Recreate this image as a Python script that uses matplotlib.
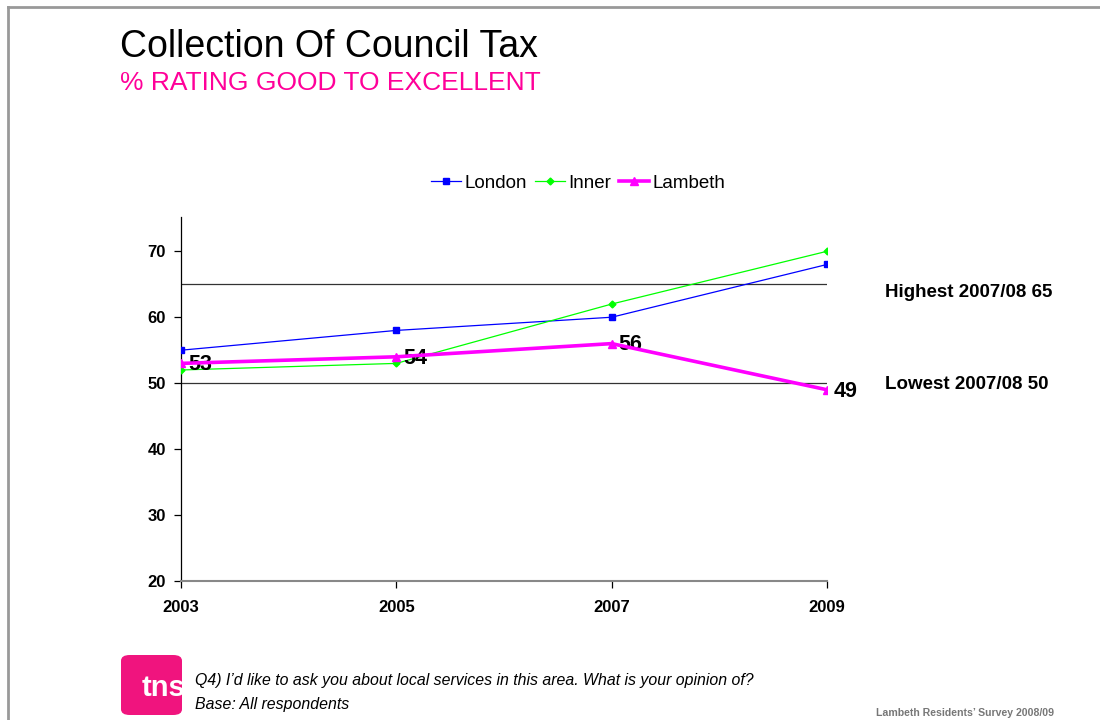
import matplotlib.pyplot as plt
from matplotlib.patches import FancyBboxPatch
from matplotlib.lines import Line2D

plt.rcParams['font.family'] = ['Liberation Sans', 'DejaVu Sans']

# survey results, % rating good to excellent
years = ['2003', '2005', '2007', '2009']
london = [55, 58, 60, 68]
inner = [52, 53, 62, 70]
lambeth = [53, 54, 56, 49]
highest_0708 = 65
lowest_0708 = 50
yticks = [20, 30, 40, 50, 60, 70]

fig = plt.figure(figsize=(11, 7.2), dpi=100)

# slide frame (top and left edges only)
fig.add_artist(Line2D([8 / 1100, 1], [1 - 7 / 720, 1 - 7 / 720], color='#999999', lw=2))
fig.add_artist(Line2D([8 / 1100, 8 / 1100], [0, 1 - 7 / 720], color='#999999', lw=2))

fig.text(120 / 1100, 1 - 47 / 720, 'Collection Of Council Tax', fontsize=27, va='center', ha='left')
fig.text(120 / 1100, 1 - 83 / 720, '% RATING GOOD TO EXCELLENT', fontsize=19, va='center',
         ha='left', color='#FF0099')

ax = fig.add_axes([181 / 1100, 1 - 581 / 720, 646 / 1100, 364 / 720])
x = list(range(len(years)))

ax.axhline(highest_0708, color='#333333', lw=0.9, zorder=1)
ax.axhline(lowest_0708, color='#333333', lw=0.9, zorder=1)

ax.plot(x, london, color='#0000FF', lw=0.9, marker='s', ms=4.5, label='London', zorder=3)
ax.plot(x, inner, color='#00FF00', lw=0.9, marker='D', ms=3.5, label='Inner', zorder=3)
ax.plot(x, lambeth, color='#FF00FF', lw=2.6, marker='^', ms=5.5, label='Lambeth', zorder=4)

for xi, v in zip(x, lambeth):
    ax.annotate(str(v), (xi, v), xytext=(5, -1), textcoords='offset points',
                fontsize=15.5, fontweight='bold', va='center', ha='left')

ax.text(1.09, highest_0708 - 1.3, f'Highest 2007/08 {highest_0708}', transform=ax.get_yaxis_transform(),
        fontsize=13.5, fontweight='bold', va='center', ha='left')
ax.text(1.09, lowest_0708 - 0.2, f'Lowest 2007/08 {lowest_0708}', transform=ax.get_yaxis_transform(),
        fontsize=13.5, fontweight='bold', va='center', ha='left')

ax.set_xlim(0, len(years) - 1)
ax.set_ylim(20, 75.2)
ax.set_xticks(x)
ax.set_xticklabels(years)
ax.set_yticks(yticks)
for spine in ['top', 'right']:
    ax.spines[spine].set_visible(False)
ax.spines['left'].set_linewidth(0.9)
ax.spines['bottom'].set_color('#888888')
ax.spines['bottom'].set_linewidth(1.5)
ax.tick_params(axis='both', labelsize=12, width=0.9, length=5)
ax.tick_params(axis='x', pad=9)
ax.tick_params(axis='y', pad=6)
for lbl in ax.get_xticklabels() + ax.get_yticklabels():
    lbl.set_fontweight('bold')
ax.patch.set_alpha(0)

leg = fig.legend(loc='center', bbox_to_anchor=(578 / 1100, 1 - 183 / 720), ncol=3, frameon=False,
                 fontsize=13.5, handlelength=1.6, handletextpad=0.2, columnspacing=0.4)

# footer: logo and question text
logo = FancyBboxPatch((121 / 1100, 1 - 715 / 720), 61 / 1100, 60 / 720,
                      boxstyle='round,pad=0,rounding_size=0.008', transform=fig.transFigure,
                      facecolor='#F0147E', edgecolor='none')
fig.add_artist(logo)
fig.text(185 / 1100, 1 - 688 / 720, 'tns', color='white', fontsize=21, fontweight='bold',
         ha='right', va='center')
fig.text(195 / 1100, 1 - 681 / 720,
         'Q4) I\u2019d like to ask you about local services in this area. What is your opinion of?',
         fontsize=11.4, style='italic', va='center', ha='left')
fig.text(195 / 1100, 1 - 705 / 720, 'Base: All respondents', fontsize=11.4, style='italic',
         va='center', ha='left')
fig.text(876 / 1100, 1 - 713 / 720, 'Lambeth Residents\u2019 Survey 2008/09', fontsize=7.6,
         fontweight='bold', color='#777777', va='center', ha='left')

fig.savefig('out.png', dpi=100)
